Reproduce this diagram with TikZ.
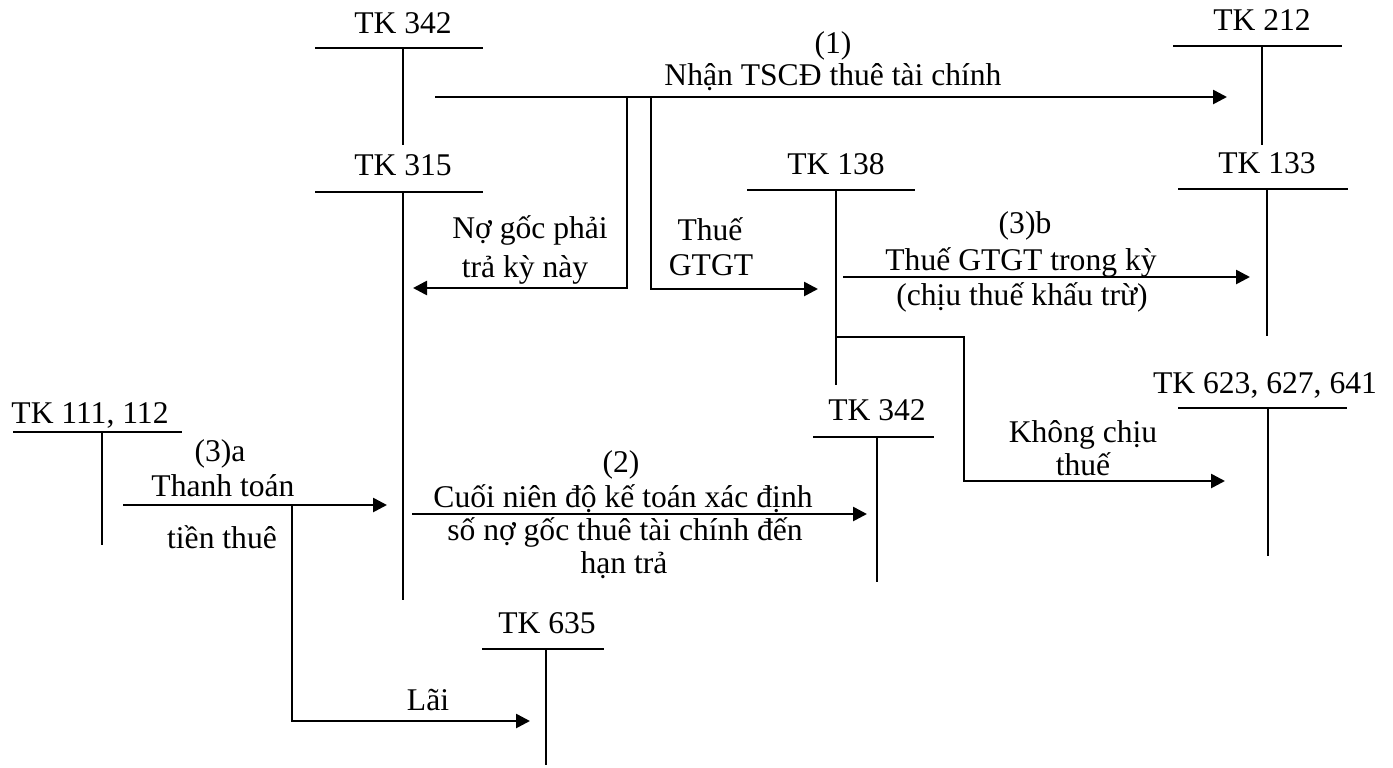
\documentclass[tikz,border=0pt]{standalone}
\usepackage{fontspec}
\setmainfont{Liberation Serif}
\usetikzlibrary{arrows.meta}
\begin{document}
\begin{tikzpicture}[x=0.5pt,y=-0.5pt,
  every node/.style={inner sep=0pt, font=\fontsize{15.8}{17}\selectfont},
  lbl/.style={anchor=base},
  tbar/.style={line width=1.3pt},
  tstem/.style={line width=0.9pt},
  flow/.style={line width=1.3pt, -{Triangle[length=7pt,width=7pt]}},
  link/.style={line width=1.3pt}]
\useasboundingbox (0,0) rectangle (1393,767);

% ---------- T accounts ----------
% TK 342 (top)
\node[lbl] (t342a) at (403,33) {TK 342};
\draw[tbar] (315,48) -- (483,48);
\draw[tstem] (403,48) -- (403,145);
% TK 315
\node[lbl] (t315) at (403,175) {TK 315};
\draw[tbar] (315,192) -- (483,192);
\draw[tstem] (403,192) -- (403,600);
% TK 212
\node[lbl] (t212) at (1262,30) {TK 212};
\draw[tbar] (1173,46) -- (1342,46);
\draw[tstem] (1262,46) -- (1262,145);
% TK 133
\node[lbl] (t133) at (1267,173) {TK 133};
\draw[tbar] (1178,189) -- (1348,189);
\draw[tstem] (1267,189) -- (1267,336);
% TK 138
\node[lbl] (t138) at (836,174) {TK 138};
\draw[tbar] (747,190) -- (915,190);
\draw[tstem] (836,190) -- (836,385);
% TK 342 (middle)
\node[lbl] (t342b) at (877,420) {TK 342};
\draw[tbar] (813,437) -- (934,437);
\draw[tstem] (877,437) -- (877,582);
% TK 623, 627, 641
\node[lbl] (t623) at (1265,393) {TK 623, 627, 641};
\draw[tbar] (1178,408) -- (1347,408);
\draw[tstem] (1268,408) -- (1268,556);
% TK 111, 112
\node[lbl] (t111) at (90,423) {TK 111, 112};
\draw[tbar] (13,432) -- (182,432);
\draw[tstem] (102,432) -- (102,545);
% TK 635
\node[lbl] (t635) at (547,633) {TK 635};
\draw[tbar] (482,649) -- (604,649);
\draw[tstem] (546,649) -- (546,765);

% ---------- connector end points ----------
\coordinate (n1s) at (435,97);
\coordinate (n1e) at (1227,97);
\coordinate (b1top) at (627,97);
\coordinate (b1cor) at (627,288);
\coordinate (b1end) at (413,288);
\coordinate (b2top) at (651,97);
\coordinate (b2cor) at (651,289);
\coordinate (b2end) at (818,289);
\coordinate (n3bs) at (843,277);
\coordinate (n3be) at (1250,277);
\coordinate (k0) at (836,337);
\coordinate (k1) at (964,337);
\coordinate (k2) at (964,481);
\coordinate (k3) at (1225,481);
\coordinate (n3as) at (123,505);
\coordinate (n3ae) at (387,505);
\coordinate (l0) at (292,505);
\coordinate (l1) at (292,721);
\coordinate (l2) at (530,721);
\coordinate (n2s) at (412,514);
\coordinate (n2e) at (867,514);

% ---------- connectors ----------
\draw[flow] (n1s) -- (n1e);
\draw[flow] (b1top) -- (b1cor) -- (b1end);
\draw[flow] (b2top) -- (b2cor) -- (b2end);
\draw[flow] (n3bs) -- (n3be);
\draw[flow] (k0) -- (k1) -- (k2) -- (k3);
\draw[flow] (n3as) -- (n3ae);
\draw[flow] (l0) -- (l1) -- (l2);
\draw[flow] (n2s) -- (n2e);

% ---------- labels ----------
\node[lbl] (L1a) at (833,53) {(1)};
\node[lbl] (L1b) at (833,85) {Nhận TSCĐ thuê tài chính};
\node[lbl] (Lnoa) at (530,238) {Nợ gốc phải};
\node[lbl] (Lnob) at (525,277) {trả kỳ này};
\node[lbl] (Ltha) at (710,240) {Thuế};
\node[lbl] (Lthb) at (711,275) {GTGT};
\node[lbl] (L3ba) at (1025,233) {(3)b};
\node[lbl] (L3bb) at (1021,270) {Thuế GTGT trong kỳ};
\node[lbl] (L3bc) at (1022,305) {(chịu thuế khấu trừ)};
\node[lbl] (Lkca) at (1083,442) {Không chịu};
\node[lbl] (Lkcb) at (1083,475) {thuế};
\node[lbl] (L3aa) at (220,461) {(3)a};
\node[lbl] (L3ab) at (223,496) {Thanh toán};
\node[lbl] (L3ac) at (222,548) {tiền thuê};
\node[lbl] (Llai) at (428,710) {Lãi};
\node[lbl] (L2a) at (621,472) {(2)};
\node[lbl] (L2b) at (623,507) {Cuối niên độ kế toán xác định};
\node[lbl] (L2c) at (625,540) {số nợ gốc thuê tài chính đến};
\node[lbl] (L2d) at (624,573) {hạn trả};
\end{tikzpicture}
\end{document}
